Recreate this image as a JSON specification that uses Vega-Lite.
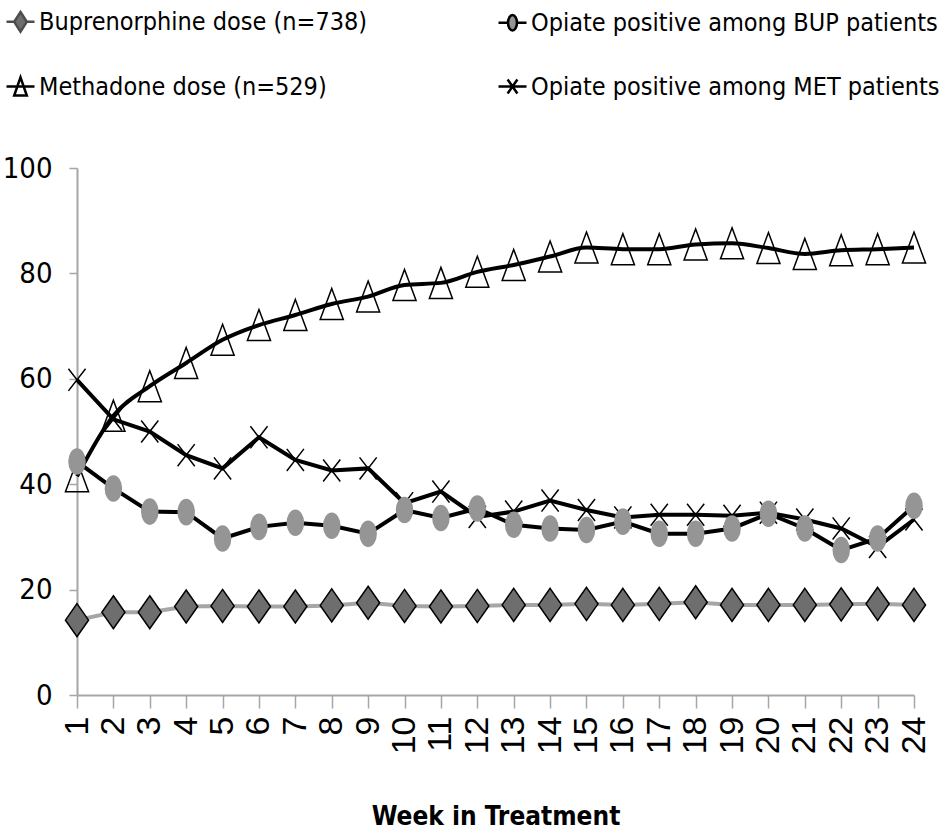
{
  "$schema": "https://vega.github.io/schema/vega-lite/v6.json",
  "width": 837,
  "height": 527,
  "autosize": {"type": "none"},
  "padding": {"left": 77, "top": 168, "right": 33, "bottom": 142},
  "background": "white",
  "config": {
    "view": {"stroke": null},
    "axis": {"grid": false, "domainColor": "#A6A6A6", "tickColor": "#A6A6A6", "domainWidth": 2, "tickWidth": 1.5, "labelColor": "#000", "titleColor": "#000"}
  },
  "data": {"values": [
    {"week": 1, "series": "Buprenorphine dose (n=738)", "value": 14.2},
    {"week": 2, "series": "Buprenorphine dose (n=738)", "value": 15.7},
    {"week": 3, "series": "Buprenorphine dose (n=738)", "value": 15.7},
    {"week": 4, "series": "Buprenorphine dose (n=738)", "value": 16.8},
    {"week": 5, "series": "Buprenorphine dose (n=738)", "value": 16.9},
    {"week": 6, "series": "Buprenorphine dose (n=738)", "value": 16.8},
    {"week": 7, "series": "Buprenorphine dose (n=738)", "value": 16.8},
    {"week": 8, "series": "Buprenorphine dose (n=738)", "value": 17.0},
    {"week": 9, "series": "Buprenorphine dose (n=738)", "value": 17.5},
    {"week": 10, "series": "Buprenorphine dose (n=738)", "value": 16.9},
    {"week": 11, "series": "Buprenorphine dose (n=738)", "value": 16.8},
    {"week": 12, "series": "Buprenorphine dose (n=738)", "value": 16.9},
    {"week": 13, "series": "Buprenorphine dose (n=738)", "value": 17.1},
    {"week": 14, "series": "Buprenorphine dose (n=738)", "value": 17.1},
    {"week": 15, "series": "Buprenorphine dose (n=738)", "value": 17.3},
    {"week": 16, "series": "Buprenorphine dose (n=738)", "value": 17.1},
    {"week": 17, "series": "Buprenorphine dose (n=738)", "value": 17.3},
    {"week": 18, "series": "Buprenorphine dose (n=738)", "value": 17.6},
    {"week": 19, "series": "Buprenorphine dose (n=738)", "value": 17.1},
    {"week": 20, "series": "Buprenorphine dose (n=738)", "value": 17.1},
    {"week": 21, "series": "Buprenorphine dose (n=738)", "value": 17.1},
    {"week": 22, "series": "Buprenorphine dose (n=738)", "value": 17.2},
    {"week": 23, "series": "Buprenorphine dose (n=738)", "value": 17.3},
    {"week": 24, "series": "Buprenorphine dose (n=738)", "value": 17.1},
    {"week": 1, "series": "Methadone dose (n=529)", "value": 41.5},
    {"week": 2, "series": "Methadone dose (n=529)", "value": 53.0},
    {"week": 3, "series": "Methadone dose (n=529)", "value": 58.6},
    {"week": 4, "series": "Methadone dose (n=529)", "value": 63.0},
    {"week": 5, "series": "Methadone dose (n=529)", "value": 67.4},
    {"week": 6, "series": "Methadone dose (n=529)", "value": 70.2},
    {"week": 7, "series": "Methadone dose (n=529)", "value": 72.1},
    {"week": 8, "series": "Methadone dose (n=529)", "value": 74.2},
    {"week": 9, "series": "Methadone dose (n=529)", "value": 75.6},
    {"week": 10, "series": "Methadone dose (n=529)", "value": 77.8},
    {"week": 11, "series": "Methadone dose (n=529)", "value": 78.2},
    {"week": 12, "series": "Methadone dose (n=529)", "value": 80.3},
    {"week": 13, "series": "Methadone dose (n=529)", "value": 81.6},
    {"week": 14, "series": "Methadone dose (n=529)", "value": 83.2},
    {"week": 15, "series": "Methadone dose (n=529)", "value": 84.9},
    {"week": 16, "series": "Methadone dose (n=529)", "value": 84.6},
    {"week": 17, "series": "Methadone dose (n=529)", "value": 84.6},
    {"week": 18, "series": "Methadone dose (n=529)", "value": 85.5},
    {"week": 19, "series": "Methadone dose (n=529)", "value": 85.7},
    {"week": 20, "series": "Methadone dose (n=529)", "value": 84.8},
    {"week": 21, "series": "Methadone dose (n=529)", "value": 83.7},
    {"week": 22, "series": "Methadone dose (n=529)", "value": 84.4},
    {"week": 23, "series": "Methadone dose (n=529)", "value": 84.6},
    {"week": 24, "series": "Methadone dose (n=529)", "value": 84.9},
    {"week": 1, "series": "Opiate positive among MET patients", "value": 59.8},
    {"week": 2, "series": "Opiate positive among MET patients", "value": 52.3},
    {"week": 3, "series": "Opiate positive among MET patients", "value": 50.0},
    {"week": 4, "series": "Opiate positive among MET patients", "value": 45.5},
    {"week": 5, "series": "Opiate positive among MET patients", "value": 43.0},
    {"week": 6, "series": "Opiate positive among MET patients", "value": 48.9},
    {"week": 7, "series": "Opiate positive among MET patients", "value": 44.6},
    {"week": 8, "series": "Opiate positive among MET patients", "value": 42.6},
    {"week": 9, "series": "Opiate positive among MET patients", "value": 43.0},
    {"week": 10, "series": "Opiate positive among MET patients", "value": 36.4},
    {"week": 11, "series": "Opiate positive among MET patients", "value": 38.6},
    {"week": 12, "series": "Opiate positive among MET patients", "value": 33.8},
    {"week": 13, "series": "Opiate positive among MET patients", "value": 34.8},
    {"week": 14, "series": "Opiate positive among MET patients", "value": 36.9},
    {"week": 15, "series": "Opiate positive among MET patients", "value": 35.1},
    {"week": 16, "series": "Opiate positive among MET patients", "value": 33.7},
    {"week": 17, "series": "Opiate positive among MET patients", "value": 34.2},
    {"week": 18, "series": "Opiate positive among MET patients", "value": 34.2},
    {"week": 19, "series": "Opiate positive among MET patients", "value": 34.0},
    {"week": 20, "series": "Opiate positive among MET patients", "value": 34.6},
    {"week": 21, "series": "Opiate positive among MET patients", "value": 33.3},
    {"week": 22, "series": "Opiate positive among MET patients", "value": 31.6},
    {"week": 23, "series": "Opiate positive among MET patients", "value": 28.1},
    {"week": 24, "series": "Opiate positive among MET patients", "value": 33.3},
    {"week": 1, "series": "Opiate positive among BUP patients", "value": 44.3},
    {"week": 2, "series": "Opiate positive among BUP patients", "value": 39.2},
    {"week": 3, "series": "Opiate positive among BUP patients", "value": 34.8},
    {"week": 4, "series": "Opiate positive among BUP patients", "value": 34.7},
    {"week": 5, "series": "Opiate positive among BUP patients", "value": 29.7},
    {"week": 6, "series": "Opiate positive among BUP patients", "value": 31.9},
    {"week": 7, "series": "Opiate positive among BUP patients", "value": 32.7},
    {"week": 8, "series": "Opiate positive among BUP patients", "value": 32.1},
    {"week": 9, "series": "Opiate positive among BUP patients", "value": 30.6},
    {"week": 10, "series": "Opiate positive among BUP patients", "value": 35.1},
    {"week": 11, "series": "Opiate positive among BUP patients", "value": 33.6},
    {"week": 12, "series": "Opiate positive among BUP patients", "value": 35.4},
    {"week": 13, "series": "Opiate positive among BUP patients", "value": 32.3},
    {"week": 14, "series": "Opiate positive among BUP patients", "value": 31.6},
    {"week": 15, "series": "Opiate positive among BUP patients", "value": 31.3},
    {"week": 16, "series": "Opiate positive among BUP patients", "value": 32.9},
    {"week": 17, "series": "Opiate positive among BUP patients", "value": 30.6},
    {"week": 18, "series": "Opiate positive among BUP patients", "value": 30.6},
    {"week": 19, "series": "Opiate positive among BUP patients", "value": 31.6},
    {"week": 20, "series": "Opiate positive among BUP patients", "value": 34.4},
    {"week": 21, "series": "Opiate positive among BUP patients", "value": 31.6},
    {"week": 22, "series": "Opiate positive among BUP patients", "value": 27.5},
    {"week": 23, "series": "Opiate positive among BUP patients", "value": 29.7},
    {"week": 24, "series": "Opiate positive among BUP patients", "value": 35.9}
  ]},
  "encoding": {
    "x": {
      "field": "week", "type": "ordinal",
      "scale": {"type": "point", "padding": 0},
      "axis": {"title": "Week in Treatment", "labelAngle": 270, "labelFont": "Liberation Sans", "labelFontSize": 34, "labelPadding": 8, "tickSize": 13, "titleFont": "DejaVu Sans Condensed, Liberation Sans", "titleFontSize": 26, "titleFontWeight": "bold", "titlePadding": 50}
    },
    "y": {
      "field": "value", "type": "quantitative",
      "scale": {"domain": [0, 100], "nice": false},
      "axis": {"title": null, "values": [0, 20, 40, 60, 80, 100], "labelFont": "DejaVu Sans Condensed, Liberation Sans", "labelFontSize": 29, "tickSize": 8, "labelPadding": 17}
    }
  },
  "layer": [
    {
      "transform": [{"filter": "datum.series !== 'Methadone dose (n=529)'"}],
      "mark": {"type": "line", "strokeWidth": 4},
      "encoding": {
        "color": {"field": "series", "type": "nominal",
          "scale": {"domain": ["Buprenorphine dose (n=738)", "Opiate positive among BUP patients", "Opiate positive among MET patients"], "range": ["#A6A6A6", "#000000", "#000000"]},
          "legend": null}
      }
    },
    {
      "transform": [{"filter": "datum.series === 'Methadone dose (n=529)'"}],
      "mark": {"type": "line", "strokeWidth": 4, "interpolate": "monotone", "color": "#000000"}
    },
    {
      "mark": {"type": "point", "size": 1089, "strokeWidth": 1.5, "opacity": 1},
      "encoding": {
        "shape": {"field": "series", "type": "nominal",
          "scale": {"domain": ["Buprenorphine dose (n=738)", "Opiate positive among BUP patients", "Methadone dose (n=529)", "Opiate positive among MET patients"],
            "range": ["M0,-1L0.7,0L0,1L-0.7,0Z", "M0,-0.76A0.485,0.76 0 1,1 0,0.76A0.485,0.76 0 1,1 0,-0.76Z", "M0,-0.94L0.7,0.94L-0.7,0.94Z", "M-0.52,-0.67L0.52,0.67M-0.52,0.67L0.52,-0.67"]},
          "legend": null},
        "fill": {"field": "series", "type": "nominal",
          "scale": {"domain": ["Buprenorphine dose (n=738)", "Opiate positive among BUP patients", "Methadone dose (n=529)", "Opiate positive among MET patients"],
            "range": ["#6E6E6E", "#959595", "transparent", "transparent"]},
          "legend": null},
        "stroke": {"field": "series", "type": "nominal",
          "scale": {"domain": ["Buprenorphine dose (n=738)", "Opiate positive among BUP patients", "Methadone dose (n=529)", "Opiate positive among MET patients"],
            "range": ["#000000", "#959595", "#000000", "#000000"]},
          "legend": null}
      }
    },
    {
      "transform": [{"filter": "false"}],
      "mark": {"type": "point", "opacity": 1, "strokeWidth": 2.5},
      "encoding": {
        "shape": {"field": "series", "type": "nominal",
          "scale": {"domain": ["Buprenorphine dose (n=738)", "Opiate positive among BUP patients", "Methadone dose (n=529)", "Opiate positive among MET patients"],
            "range": ["M-1,0L-0.45,0M0.45,0L1,0M0,-0.7L0.45,0L0,0.7L-0.45,0Z", "M-1,0L-0.32,0M0.32,0L1,0M0,-0.55A0.32,0.55 0 1,1 0,0.55A0.32,0.55 0 1,1 0,-0.55Z", "M-1,0L1,0M0,-0.65L0.45,0.65L-0.45,0.65Z", "M-1,0L1,0M-0.35,-0.5L0.35,0.5M-0.35,0.5L0.35,-0.5"]},
          "legend": {
            "title": null, "orient": "none", "legendX": -72, "legendY": -162,
            "direction": "horizontal", "columns": 2, "columnPadding": 125, "rowPadding": 34, "padding": 0,
            "symbolSize": 784, "symbolStrokeWidth": 2.5, "labelFont": "DejaVu Sans Condensed, Liberation Sans", "labelFontSize": 25, "labelColor": "#000000", "labelOffset": 3, "labelLimit": 700
          }},
        "fill": {"field": "series", "type": "nominal",
          "scale": {"domain": ["Buprenorphine dose (n=738)", "Opiate positive among BUP patients", "Methadone dose (n=529)", "Opiate positive among MET patients"],
            "range": ["#6E6E6E", "#959595", "transparent", "transparent"]}},
        "stroke": {"field": "series", "type": "nominal",
          "scale": {"domain": ["Buprenorphine dose (n=738)", "Opiate positive among BUP patients", "Methadone dose (n=529)", "Opiate positive among MET patients"],
            "range": ["#4D4D4D", "#000000", "#000000", "#000000"]}}
      }
    }
  ],
  "resolve": {"scale": {"shape": "independent", "fill": "independent", "stroke": "independent"}}
}
